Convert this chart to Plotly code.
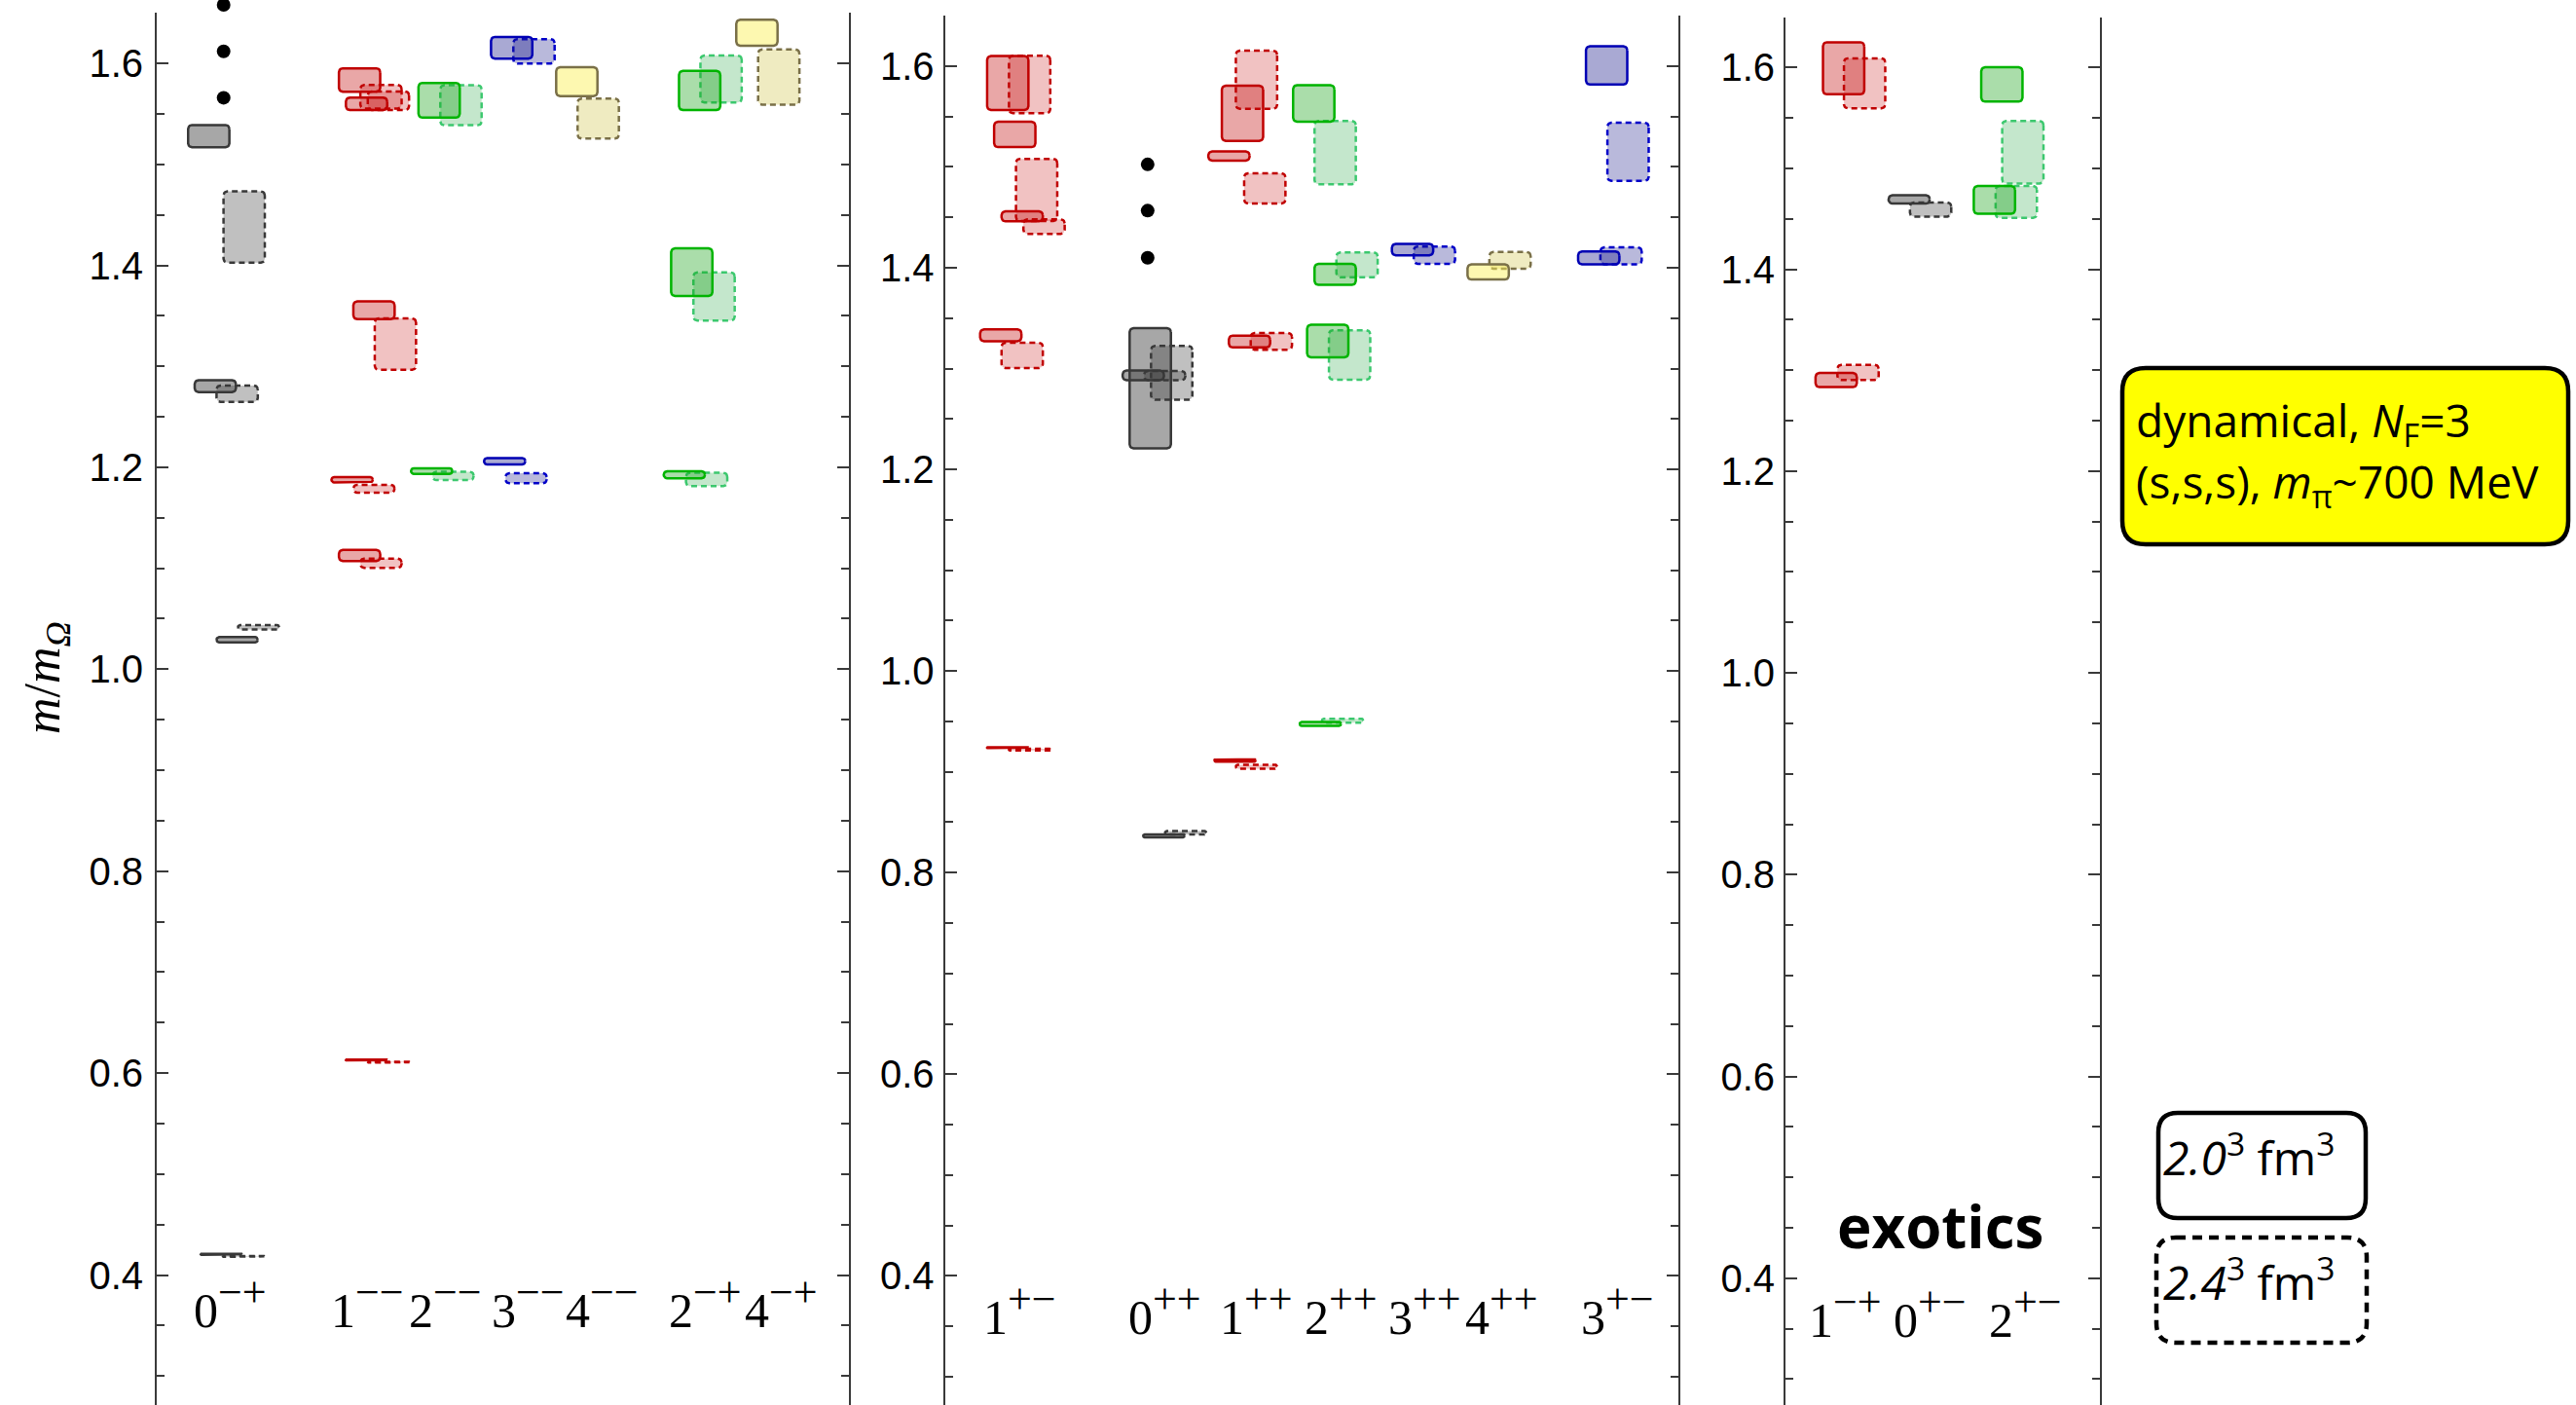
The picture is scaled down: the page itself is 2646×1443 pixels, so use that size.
import math
import plotly.graph_objects as go

W, H = 2646, 1443

# ---------------- data ----------------
# Box slots are the left edge of each box in units of one box width along its panel.
# Masses and uncertainties are m/m_Omega; VOL "2.0" = 2.0^3 fm^3 (solid), "2.4" = 2.4^3 fm^3 (dashed).

# panel 1: 0-+, 1--, 2--, 3--, 4--, 2-+, 4-+
P1_SLOT = [0.69, 1.50, 0.84, 1.34, 1.34, 1.83, 0.98, 1.49,
           4.14, 4.63, 4.30, 4.80, 4.47, 4.96, 3.97, 4.47, 4.14, 4.63, 4.30, 4.81,
           5.96, 6.46, 5.79, 6.28,
           7.62, 8.13, 7.46, 7.95,
           9.11, 9.60,
           11.92, 12.41, 11.74, 12.25, 11.57, 12.08,
           13.23, 13.73]
P1_MASS = [1.528, 1.438, 1.2804, 1.2729, 1.0292, 1.0416, 0.4205, 0.4185,
           1.5836, 1.567, 1.5600, 1.5631, 1.3555, 1.322, 1.1877, 1.1788, 1.1127, 1.105, 0.613, 0.6108,
           1.5635, 1.5586, 1.1963, 1.1914,
           1.6155, 1.612, 1.206, 1.1892,
           1.5819, 1.5454,
           1.5732, 1.5846, 1.3933, 1.3692, 1.1926, 1.188,
           1.6304, 1.5865]
P1_ERR = [0.0122, 0.0365, 0.0071, 0.0093, 0.0038, 0.0033, 0.0015, 0.0015,
          0.0128, 0.0129, 0.0074, 0.0104, 0.0100, 0.0266, 0.0038, 0.0051, 0.0067, 0.0058, 0.0012, 0.0012,
          0.0184, 0.0210, 0.0040, 0.0053,
          0.0120, 0.0133, 0.0044, 0.0062,
          0.0155, 0.0210,
          0.0206, 0.0244, 0.0248, 0.0250, 0.0047, 0.0078,
          0.0140, 0.0286]
P1_SPIN = [0, 0, 0, 0, 0, 0, 0, 0,
           1, 1, 1, 1, 1, 1, 1, 1, 1, 1, 1, 1,
           2, 2, 2, 2,
           3, 3, 3, 3,
           4, 4,
           2, 2, 2, 2, 2, 2,
           4, 4]
P1_VOL = ["2.0", "2.4"] * 19
P1_DOT_X = [1.53, 1.53, 1.53]
P1_DOT_Y = [1.658, 1.612, 1.566]
P1_LABELS = [("0", "−+"), ("1", "−−"), ("2", "−−"), ("3", "−−"),
             ("4", "−−"), ("2", "−+"), ("4", "−+")]
P1_LABEL_POS = [1.69, 4.83, 6.60, 8.49, 10.20, 12.55, 14.28]

# panel 2: 1+-, 0++, 1++, 2++, 3++, 4++, 3+-
P2_SLOT = [0.94, 1.44, 1.10, 1.60, 1.27, 1.77, 0.78, 1.27, 0.94, 1.44,
           4.20, 4.69, 4.04, 4.53, 4.51, 5.01,
           6.31, 6.63, 6.00, 6.82, 6.47, 6.97, 6.14, 6.63,
           7.94, 8.43, 8.43, 8.93, 8.26, 8.76, 8.09, 8.60,
           10.20, 10.70,
           11.93, 12.43,
           14.64, 15.13, 14.46, 14.97]
P2_MASS = [1.5832, 1.5818, 1.5322, 1.4772, 1.4510, 1.4408, 1.3330, 1.3130, 0.9240, 0.9220,
           1.2805, 1.2957, 1.2932, 1.2930, 0.8365, 0.8395,
           1.5532, 1.5865, 1.5108, 1.4787, 1.3268, 1.3270, 0.9113, 0.9051,
           1.5630, 1.5142, 1.3934, 1.4029, 1.3273, 1.3135, 0.9475, 0.9507,
           1.4180, 1.4125,
           1.3958, 1.4073,
           1.6007, 1.5150, 1.4098, 1.4118]
P2_ERR = [0.0280, 0.0297, 0.0138, 0.0320, 0.0062, 0.0084, 0.0071, 0.0138, 0.0016, 0.0020,
          0.0608, 0.0279, 0.0060, 0.0058, 0.0027, 0.0029,
          0.0286, 0.0300, 0.0058, 0.0162, 0.0071, 0.0095, 0.0023, 0.0031,
          0.0193, 0.0326, 0.0116, 0.0135, 0.0173, 0.0257, 0.0032, 0.0032,
          0.0069, 0.0098,
          0.0087, 0.0095,
          0.0202, 0.0300, 0.0076, 0.0096]
P2_SPIN = [1, 1, 1, 1, 1, 1, 1, 1, 1, 1,
           0, 0, 0, 0, 0, 0,
           1, 1, 1, 1, 1, 1, 1, 1,
           2, 2, 2, 2, 2, 2, 2, 2,
           3, 3,
           4, 4,
           3, 3, 3, 3]
P2_VOL = ["2.0", "2.4"] * 20
P2_DOT_X = [4.64, 4.64, 4.64]
P2_DOT_Y = [1.5025, 1.4566, 1.4099]
P2_LABELS = [("1", "+−"), ("0", "++"), ("1", "++"), ("2", "++"),
             ("3", "++"), ("4", "++"), ("3", "+−")]
P2_LABEL_POS = [1.72, 5.04, 7.13, 9.06, 10.97, 12.74, 15.38]

# panel 3 (exotics): 1-+, 0+-, 2+-
P3_SLOT = [0.83, 1.31, 0.66, 1.16,
           2.33, 2.82,
           4.45, 4.93, 4.28, 4.78]
P3_MASS = [1.5992, 1.5843, 1.2902, 1.2978,
           1.4692, 1.4592,
           1.5832, 1.5160, 1.4688, 1.4668]
P3_ERR = [0.0270, 0.0260, 0.0082, 0.0087,
          0.0053, 0.0082,
          0.0182, 0.0322, 0.0150, 0.0170]
P3_SPIN = [1, 1, 1, 1,
           0, 0,
           2, 2, 2, 2]
P3_VOL = ["2.0", "2.4"] * 5
P3_LABELS = [("1", "−+"), ("0", "+−"), ("2", "+−")]
P3_LABEL_POS = [1.38, 3.31, 5.50]

Y_TICKS = [0.4, 0.6, 0.8, 1.0, 1.2, 1.4, 1.6]

# ---------------- styling ----------------
STYLE = {
    0: dict(line="#383838", fill="rgba(60,60,60,0.45)", dline="#383838", dfill="rgba(60,60,60,0.32)"),
    1: dict(line="#c00000", fill="rgba(195,10,10,0.36)", dline="#c00000", dfill="rgba(200,20,20,0.26)"),
    2: dict(line="#00b400", fill="rgba(20,160,20,0.36)", dline="#3cc86e", dfill="rgba(20,160,50,0.25)"),
    3: dict(line="#0000b4", fill="rgba(30,30,140,0.38)", dline="#0000c8", dfill="rgba(30,30,140,0.31)"),
    4: dict(line="#7a7048", fill="rgba(250,240,90,0.48)", dline="#7a7048", dfill="rgba(215,205,100,0.40)"),
}
AXIS_COLOR = "#3a3a3a"
BOX_PX = 44.9          # rendered width of one box
LINE_W = 2.5
DASH = "6px,4px"

# panel frames in pixels: left axis, right axis, top of axis line, label standoff
PANELS = [
    dict(left=161.0, right=872.0, top=13.3, ybot=0.2713, standoff=4),
    dict(left=970.5, right=1724.0, top=16.1, ybot=0.2720, standoff=1),
    dict(left=1834.0, right=2157.0, top=17.5, ybot=0.2744, standoff=1),
]
YTOP = 1.65


def rounded_box(x0, x1, y0, y1, sx, sy, r_px=4.0, n=5):
    """Closed outline of a rectangle with rounded corners (radius in pixels)."""
    w_px = (x1 - x0) * sx
    h_px = (y1 - y0) * sy
    r = max(0.0, min(r_px, w_px / 2, h_px / 2))
    rx, ry = r / sx, r / sy
    corners = [(x1 - rx, y1 - ry, 0, 90), (x0 + rx, y1 - ry, 90, 180),
               (x0 + rx, y0 + ry, 180, 270), (x1 - rx, y0 + ry, 270, 360)]
    xs, ys = [], []
    for cx, cy, a0, a1 in corners:
        for k in range(n + 1):
            a = math.radians(a0 + (a1 - a0) * k / n)
            xs.append(cx + rx * math.cos(a))
            ys.append(cy + ry * math.sin(a))
    xs.append(xs[0])
    ys.append(ys[0])
    return xs, ys


fig = go.Figure()

panel_data = [
    (P1_SLOT, P1_MASS, P1_ERR, P1_SPIN, P1_VOL, P1_DOT_X, P1_DOT_Y),
    (P2_SLOT, P2_MASS, P2_ERR, P2_SPIN, P2_VOL, P2_DOT_X, P2_DOT_Y),
    (P3_SLOT, P3_MASS, P3_ERR, P3_SPIN, P3_VOL, [], []),
]

layout = dict(
    width=W, height=H, autosize=False,
    margin=dict(l=0, r=0, t=0, b=0, pad=0),
    paper_bgcolor="white", plot_bgcolor="rgba(0,0,0,0)",
    showlegend=False,
)

dot_axis = 4
for i, (pan, (slot, mass, err, spin, vol, dx, dy)) in enumerate(zip(PANELS, panel_data)):
    ax = "" if i == 0 else str(i + 1)
    sx = BOX_PX
    sy = (H - pan["top"]) / (YTOP - pan["ybot"])
    inset_x = (LINE_W / 2) / sx
    inset_y = (LINE_W / 2) / sy
    xrange_ = [0, (pan["right"] - pan["left"]) / BOX_PX]
    xdomain = [pan["left"] / W, pan["right"] / W]

    layout["xaxis" + ax] = dict(domain=xdomain, range=xrange_, visible=False,
                                fixedrange=True, anchor="y" + ax)
    layout["yaxis" + ax] = dict(
        domain=[0, 1 - pan["top"] / H],
        range=[pan["ybot"], YTOP],
        anchor="x" + ax,
        showline=True, linecolor=AXIS_COLOR, linewidth=2,
        mirror="ticks", ticks="inside", ticklen=12, tickwidth=2, tickcolor=AXIS_COLOR,
        tickvals=Y_TICKS, ticktext=["%.1f" % v for v in Y_TICKS],
        tickfont=dict(family="Liberation Sans, Arial, sans-serif", size=40, color="black"),
        ticklabelstandoff=pan["standoff"],
        minor=dict(dtick=0.05, tick0=0.0, ticks="inside", ticklen=8, tickwidth=2,
                   tickcolor=AXIS_COLOR, showgrid=False),
        showgrid=False, zeroline=False, fixedrange=True)

    # larger-volume (dashed) boxes first, solid boxes drawn over them
    order = [k for k in range(len(slot)) if vol[k] == "2.4"] + \
            [k for k in range(len(slot)) if vol[k] == "2.0"]
    for k in order:
        st = STYLE[spin[k]]
        dashed = vol[k] == "2.4"
        x0 = slot[k] + inset_x
        x1 = slot[k] + 1.0 - inset_x
        half = max(err[k] - inset_y, 0.0004)
        xs, ys = rounded_box(x0, x1, mass[k] - half, mass[k] + half, sx, sy)
        fig.add_trace(go.Scatter(
            x=xs, y=ys, mode="lines", fill="toself",
            fillcolor=st["dfill"] if dashed else st["fill"],
            line=dict(color=st["dline"] if dashed else st["line"], width=LINE_W,
                      dash=DASH if dashed else "solid"),
            xaxis="x" + ax, yaxis="y" + ax, hoverinfo="skip", showlegend=False))

    if dx:
        # dots marking further states; own full-height subplot with the same scale
        dax = str(dot_axis)
        dot_axis += 1
        layout["xaxis" + dax] = dict(domain=xdomain, range=xrange_, visible=False,
                                     fixedrange=True, anchor="y" + dax)
        layout["yaxis" + dax] = dict(domain=[0, 1], range=[pan["ybot"], pan["ybot"] + H / sy],
                                     visible=False, fixedrange=True, anchor="x" + dax)
        fig.add_trace(go.Scatter(
            x=dx, y=dy, mode="markers", marker=dict(color="black", size=14),
            xaxis="x" + dax, yaxis="y" + dax, hoverinfo="skip", showlegend=False))

fig.update_layout(**layout)

# J^PC labels under each column
label_font = dict(family="Liberation Serif, Times New Roman, serif", size=50, color="black")
label_y = [0.372, 0.366, 0.366]
for i, (labels, pos) in enumerate([(P1_LABELS, P1_LABEL_POS), (P2_LABELS, P2_LABEL_POS),
                                   (P3_LABELS, P3_LABEL_POS)]):
    ax = "" if i == 0 else str(i + 1)
    for (j, pc), x in zip(labels, pos):
        text = j + '<sup><span style="font-size:44px">' + pc + "</span></sup>"
        fig.add_annotation(text=text, x=x, y=label_y[i], xref="x" + ax, yref="y" + ax,
                           xanchor="center", yanchor="middle", showarrow=False, font=label_font)

fig.add_annotation(text="<b>exotics</b>", x=3.54, y=0.452, xref="x3", yref="y3",
                   xanchor="center", yanchor="middle", showarrow=False,
                   font=dict(family="Open Sans, sans-serif", size=60, color="black"))

# y-axis title
fig.add_annotation(text="<i>m</i>/<i>m</i><sub><i>Ω</i></sub>", x=47 / W, y=1 - 696 / H,
                   xref="paper", yref="paper", textangle=-90, showarrow=False,
                   xanchor="center", yanchor="middle",
                   font=dict(family="Liberation Serif, Times New Roman, serif", size=52, color="black"))


def rounded_path(x0, y0, x1, y1, r):
    """SVG path (paper coordinates) for a rounded rectangle given in pixels."""
    def p(x, y):
        return "%.6f,%.6f" % (x / W, 1 - y / H)
    return ("M" + p(x0 + r, y0) + " L" + p(x1 - r, y0) + " Q" + p(x1, y0) + " " + p(x1, y0 + r) +
            " L" + p(x1, y1 - r) + " Q" + p(x1, y1) + " " + p(x1 - r, y1) +
            " L" + p(x0 + r, y1) + " Q" + p(x0, y1) + " " + p(x0, y1 - r) +
            " L" + p(x0, y0 + r) + " Q" + p(x0, y0) + " " + p(x0 + r, y0) + " Z")


# simulation info box
fig.add_shape(type="path", xref="paper", yref="paper",
              path=rounded_path(2180, 378, 2638, 559, 24),
              fillcolor="#ffff00", line=dict(color="black", width=4.5))
info_font = dict(family="Open Sans, sans-serif", size=46, color="black")
for line_text, ypx in [("dynamical, <i>N</i><sub>F</sub>=3", 434),
                       ("(s,s,s), <i>m</i><sub>π</sub>~700 MeV", 497)]:
    fig.add_annotation(text=line_text, x=2192 / W, y=1 - ypx / H, xref="paper", yref="paper",
                       xanchor="left", yanchor="middle", align="left", showarrow=False,
                       font=info_font)

# volume key
fig.add_shape(type="path", xref="paper", yref="paper",
              path=rounded_path(2217, 1143, 2430, 1251, 20),
              fillcolor="rgba(0,0,0,0)", line=dict(color="black", width=4.5))
fig.add_shape(type="path", xref="paper", yref="paper",
              path=rounded_path(2215, 1271, 2431, 1379, 20),
              fillcolor="rgba(0,0,0,0)", line=dict(color="black", width=4.5, dash="10px,7px"))
key_font = dict(family="Open Sans, sans-serif", size=48, color="black")
fig.add_annotation(text="<i>2.0</i><sup>3</sup> fm<sup>3</sup>", x=2310 / W, y=1 - 1186 / H,
                   xref="paper", yref="paper", xanchor="center", yanchor="middle",
                   showarrow=False, font=key_font)
fig.add_annotation(text="<i>2.4</i><sup>3</sup> fm<sup>3</sup>", x=2310 / W, y=1 - 1314 / H,
                   xref="paper", yref="paper", xanchor="center", yanchor="middle",
                   showarrow=False, font=key_font)

fig.write_html("out.html")
